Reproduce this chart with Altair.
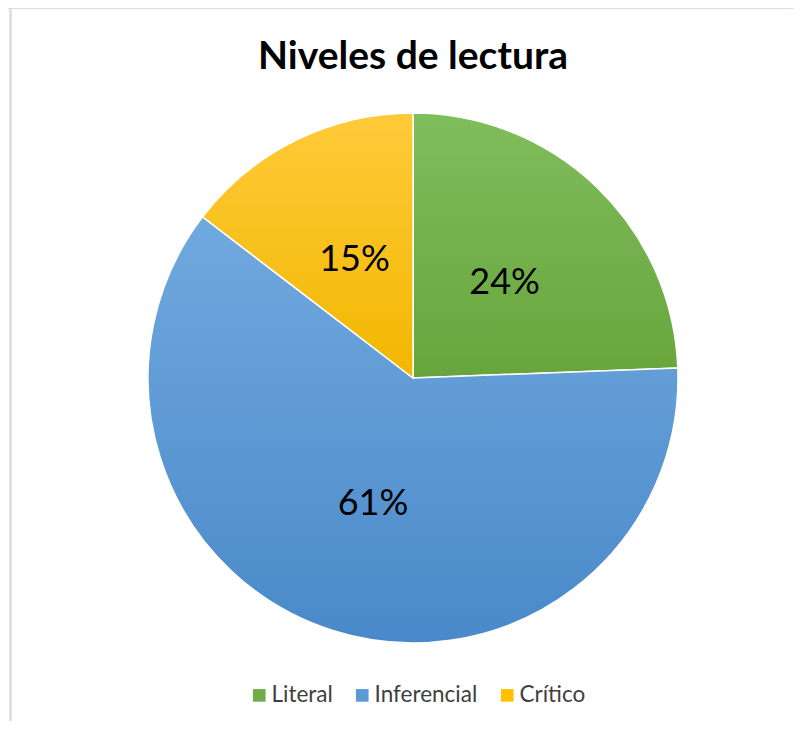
import altair as alt
import pandas as pd

categories = ["Literal", "Inferencial", "Crítico"]
values = [24.4, 61.0, 14.6]
order = [0, 1, 2]
flat_colors = ["#70AD47", "#5B9BD5", "#FFC000"]
grad_top = ["#80bd5c", "#70a9de", "#ffca3a"]
grad_bottom = ["#67a53c", "#4a89c9", "#f2b700"]

df = pd.DataFrame({"categoria": categories, "valor": values, "orden": order})

W, H = 786, 713
CX, CY = 405, 370
R = 265

base = alt.Chart(df).transform_joinaggregate(
    total="sum(valor)"
).transform_window(
    cum="sum(valor)", sort=[alt.SortField("orden")], frame=[None, 0]
).transform_calculate(
    t1="datum.cum / datum.total * 2 * PI",
    t0="(datum.cum - datum.valor) / datum.total * 2 * PI",
    tm="(datum.cum - datum.valor / 2) / datum.total * 2 * PI",
    pct="format(datum.valor / datum.total, '.0%')",
)

arcs = base.mark_arc(radius=R, stroke="white", strokeWidth=1.5).encode(
    x=alt.value(CX),
    y=alt.value(CY),
    theta=alt.Theta("t0:Q", scale=None),
    theta2="t1:Q",
    color=alt.Color(
        "categoria:N",
        scale=alt.Scale(domain=categories, range=flat_colors),
        sort=categories,
        legend=alt.Legend(
            title=None,
            orient="none",
            legendX=240,
            legendY=676,
            direction="horizontal",
            symbolType="square",
            symbolSize=160,
            symbolStrokeWidth=0,
            labelFont="Lato",
            labelFontSize=22.5,
            labelColor="#404040",
            columnPadding=18,
            labelOffset=1,
        ),
    ),
)

layers = [arcs]
for i, c in enumerate(categories):
    layers.append(
        base.transform_filter(alt.datum.categoria == c).mark_arc(
            radius=R,
            stroke="white",
            strokeWidth=1.5,
            fill=alt.LinearGradient(
                gradient="linear",
                x1=0, y1=0, x2=0, y2=1,
                stops=[
                    alt.GradientStop(color=grad_top[i], offset=0),
                    alt.GradientStop(color=grad_bottom[i], offset=1),
                ],
            ),
        ).encode(
            x=alt.value(CX),
            y=alt.value(CY),
            theta=alt.Theta("t0:Q", scale=None),
            theta2="t1:Q",
        )
    )

labels = base.mark_text(
    radius=132, font="Lato", fontSize=36, color="black", baseline="middle", align="center"
).encode(
    x=alt.value(CX),
    y=alt.value(CY),
    theta=alt.Theta("tm:Q", scale=None),
    text="pct:N",
)
layers.append(labels)

frame_color = "#d9dfe9"
left_line = alt.Chart(df).mark_rule(color=frame_color, strokeWidth=2).encode(
    x=alt.value(2.5), y=alt.value(0), y2=alt.value(H)
)
top_line = alt.Chart(df).mark_rule(color=frame_color, strokeWidth=2).encode(
    y=alt.value(0), x=alt.value(0), x2=alt.value(W)
)

chart = alt.layer(left_line, top_line, *layers).properties(
    width=W,
    height=H,
    autosize=alt.AutoSizeParams(type="none"),
    padding=0,
    title=alt.Title(
        "Niveles de lectura",
        font="Lato",
        fontSize=39,
        fontWeight="bold",
        color="black",
        anchor="middle",
        baseline="alphabetic",
        offset=0,
        dx=12,
        dy=101,
    ),
).configure_view(stroke=None)

chart.save("out.html", embed_options={"renderer": "svg", "actions": False})
